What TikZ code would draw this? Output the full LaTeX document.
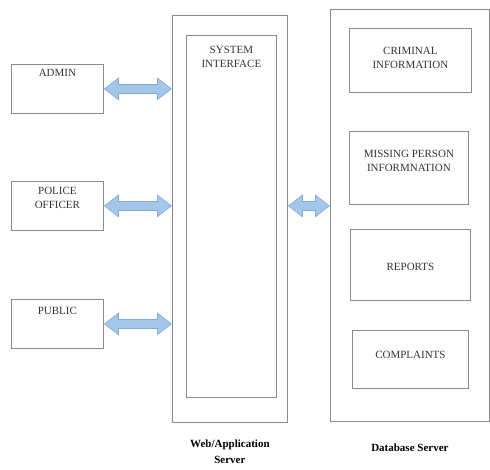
\documentclass[tikz,border=0pt]{standalone}
\usepackage{fontspec}
\setmainfont{Liberation Serif}
\usepackage{tikz}
\usetikzlibrary{arrows.meta, positioning}

\definecolor{boxgray}{HTML}{8A8A8A}
\definecolor{arrowfill}{HTML}{A4C6EA}
\definecolor{arrowedge}{HTML}{7FA9D8}

\begin{document}
\begin{tikzpicture}[x=1pt,y=-1pt,node distance=4pt,
  box/.style={draw=boxgray,line width=0.8pt,anchor=north west,inner sep=0pt},
  txt/.style={align=center,inner sep=2pt,text=black!80,font=\fontsize{11}{14}\selectfont},
  title/.style={align=center,inner sep=2pt,font=\fontsize{11}{16}\selectfont\bfseries},
  linkback/.style={line width=10pt,arrowedge,
    {Triangle[length=15pt,width=22pt]}-{Triangle[length=15pt,width=22pt]}},
  linkfront/.style={line width=7.6pt,arrowfill,shorten <=1.2pt,shorten >=1.2pt,
    {Triangle[length=13pt,width=19pt]}-{Triangle[length=13pt,width=19pt]}}]
  \useasboundingbox (0,0) rectangle (490,470);

  % users
  \node[box,minimum width=92pt,minimum height=49pt]  (admin)  at (11,64)  {};
  \node[box,minimum width=92pt,minimum height=49pt]  (police) at (11,181) {};
  \node[box,minimum width=92pt,minimum height=49pt]  (public) at (11,299) {};
  \node[txt] (admintxt)  [below=3pt of admin.north]  {ADMIN};
  \node[txt] (policetxt) [below=4pt of police.north] {POLICE\\OFFICER};
  \node[txt] (publictxt) [below=6pt of public.north] {PUBLIC};

  % web / application server
  \node[box,minimum width=115pt,minimum height=407pt] (web)    at (172,15) {};
  \node[box,minimum width=90pt,minimum height=362pt]  (sysint) at (186,35) {};
  \node[txt] (sysinttxt) [below=9pt of sysint.north] {SYSTEM\\INTERFACE};
  \node[title] (webtxt) [below=15pt of web.south] {Web/Application\\Server};

  % database server
  \node[box,minimum width=159pt,minimum height=412pt] (db)         at (330,9)   {};
  \node[box,minimum width=122pt,minimum height=64pt]  (criminal)   at (349,28)  {};
  \node[box,minimum width=119pt,minimum height=73pt]  (missing)    at (349,131) {};
  \node[box,minimum width=120pt,minimum height=71pt]  (reports)    at (350,229) {};
  \node[box,minimum width=116pt,minimum height=58pt]  (complaints) at (352,330) {};
  \node[txt] (criminaltxt)   [below=17pt of criminal.north]   {CRIMINAL\\INFORMATION};
  \node[txt] (missingtxt)    [below=17pt of missing.north]    {MISSING PERSON\\INFORMNATION};
  \node[txt] (reportstxt)    [below=32pt of reports.north]    {REPORTS};
  \node[txt] (complaintstxt) [below=19pt of complaints.north] {COMPLAINTS};
  \node[title] (dbtxt) [below=20pt of db.south] {Database Server};

  % links
  \foreach \u in {admin,police,public}{
    \draw[linkback]  (\u.east) -- (\u.east -| web.west);
    \draw[linkfront] (\u.east) -- (\u.east -| web.west);
  }
  \draw[linkback]  (police.east -| web.east) -- (police.east -| db.west);
  \draw[linkfront] (police.east -| web.east) -- (police.east -| db.west);
\end{tikzpicture}
\end{document}
